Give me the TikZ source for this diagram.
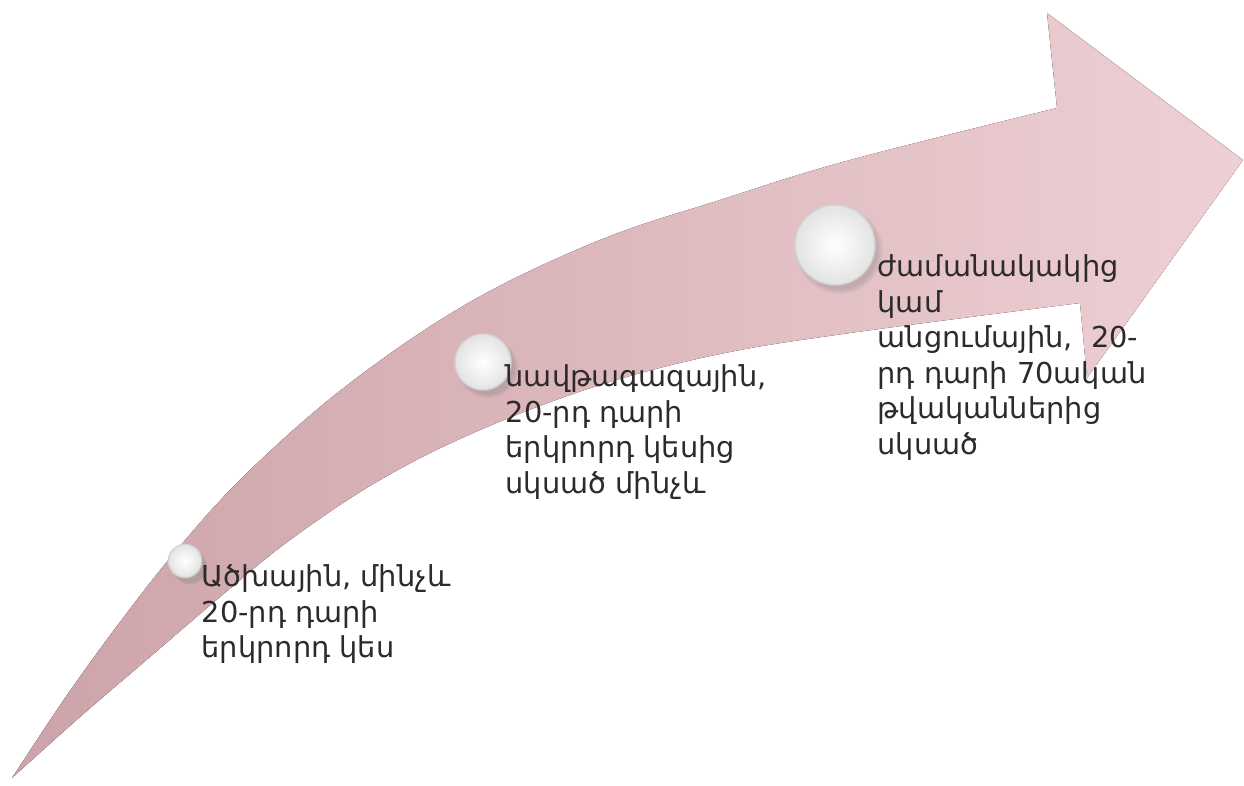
\documentclass[tikz,border=0pt]{standalone}
\usepackage{fontspec}
\newfontfamily\armfont{DejaVu Sans}
\usetikzlibrary{shadows}

\definecolor{arrowdark}{RGB}{204,163,168}
\definecolor{arrowlight}{RGB}{238,208,212}
\definecolor{textgray}{RGB}{45,42,42}

\begin{document}
\begin{tikzpicture}[x=0.1mm, y=-0.1mm,
        bead/.style={circle, draw=gray!35, line width=0.4pt, inner color=white, outer color=gray!22, circular drop shadow={opacity=0.35, shadow xshift=0.4mm, shadow yshift=-0.5mm}},
        era/.style={anchor=north west, align=left, inner sep=0pt, text=textgray, font=\armfont\fontsize{8.2}{10.1}\selectfont}]

        \useasboundingbox (0,0) rectangle (1244,785);

        % --- The curved arrow: outer edge, head, inner edge ---
        \fill[left color=arrowdark, right color=arrowlight]
            plot[smooth, tension=0.6] coordinates {(12,778) (65,698) (120,622) (180,546) (250,470) (350,383) (470,302) (600,240) (720,200) (850,160) (1057,108)}
            -- (1047,13) -- (1243,160) -- (1087,378) -- (1080,303)
            -- plot[smooth, tension=0.6] coordinates {(1080,303) (850,333) (720,354) (600,385) (480,430) (380,480) (290,540) (220,597) (150,657) (80,717) (12,778)}
            -- cycle;

        % --- Beads on the arrow ---
        \node[bead, minimum size=2.8mm] (bead1) at (185,561) {};
        \node[bead, minimum size=5.6mm] (bead2) at (483,362) {};
        \node[bead, minimum size=8mm] (bead3) at (835,245) {};

        % --- Stage labels ---
        \node[era] (era1) at (201,564) {Ածխային, մինչև\\20-րդ դարի\\երկրորդ կես};
        \node[era] (era2) at (505,364) {նավթագազային,\\20-րդ դարի\\երկրորդ կեսից\\սկսած մինչև};
        \node[era] (era3) at (877,254) {ժամանակակից\\կամ\\անցումային,\ \ 20-\\րդ դարի 70ական\\թվականներից\\սկսած};

    \end{tikzpicture}
\end{document}
